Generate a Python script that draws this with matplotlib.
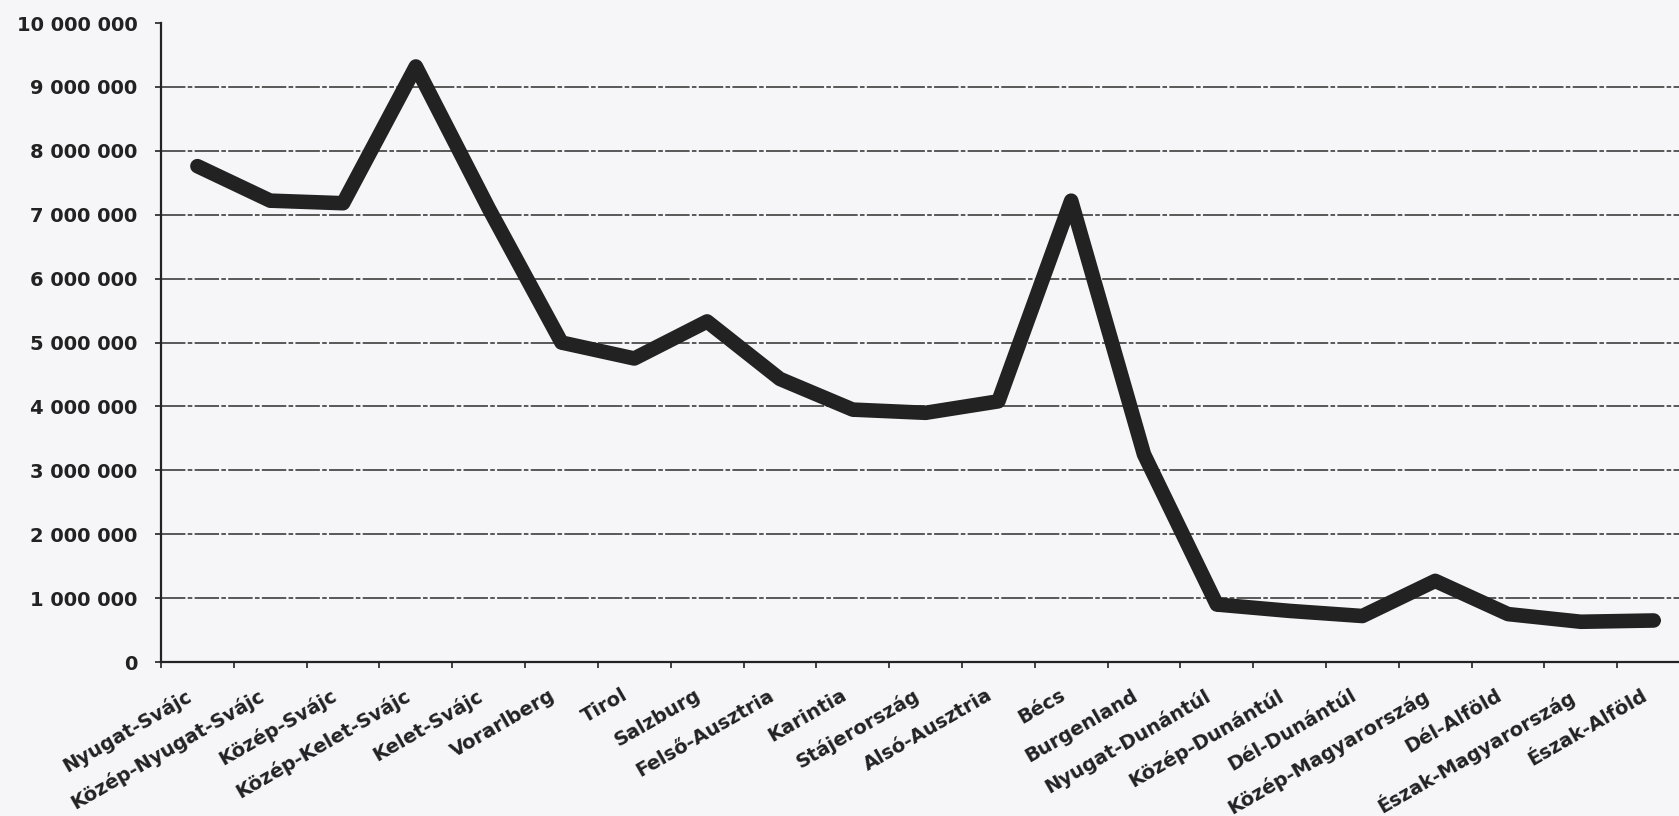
import numpy as np
import matplotlib
matplotlib.use("Agg")
import matplotlib.pyplot as plt
from matplotlib.ticker import FuncFormatter, FixedLocator
from matplotlib.transforms import ScaledTranslation

# regions (NUTS2) and values
regions = ["Nyugat-Svájc", "Közép-Nyugat-Svájc", "Közép-Svájc", "Közép-Kelet-Svájc",
           "Kelet-Svájc", "Vorarlberg", "Tirol", "Salzburg", "Felső-Ausztria",
           "Karintia", "Stájerország", "Alsó-Ausztria", "Bécs", "Burgenland",
           "Nyugat-Dunántúl", "Közép-Dunántúl", "Dél-Dunántúl", "Közép-Magyarország",
           "Dél-Alföld", "Észak-Magyarország", "Észak-Alföld"]
values = [7760000, 7220000, 7180000, 9320000, 7100000, 5000000, 4750000, 5330000,
          4430000, 3950000, 3900000, 4080000, 7220000, 3250000, 900000, 800000,
          720000, 1270000, 750000, 630000, 650000]
y_ticks = [0, 1000000, 2000000, 3000000, 4000000, 5000000, 6000000, 7000000,
           8000000, 9000000, 10000000]

bg = "#f6f6f8"
ink = "#222222"

fig = plt.figure(figsize=(16.79, 8.16), dpi=100, facecolor=bg)
ax = fig.add_axes([0.0959, 0.1887, 0.9107, 0.7831], facecolor=bg)

x = np.arange(len(regions))

# gridlines (scanned look: mostly solid with small gaps)
for v in y_ticks[1:-1]:
    ax.axhline(v, color="#2e2e2e", lw=1.1, dashes=(16, 1.5, 3, 1.5), zorder=1)

ax.plot(x, values, color=ink, lw=10.5, marker="D", markersize=6,
        solid_joinstyle="round", solid_capstyle="round", zorder=3)

ax.set_xlim(-0.5, len(regions) - 0.5)
ax.set_ylim(0, 10000000)

for side in ["top", "right"]:
    ax.spines[side].set_visible(False)
for side in ["left", "bottom"]:
    ax.spines[side].set_color(ink)
    ax.spines[side].set_linewidth(1.6)

ax.set_yticks(y_ticks)
ax.yaxis.set_major_formatter(FuncFormatter(lambda v, p: "{:,}".format(int(v)).replace(",", " ")))
ax.tick_params(axis="y", direction="out", length=4, width=1.2, color=ink, pad=13,
               labelsize=14, labelcolor=ink)

ax.set_xticks(x)
ax.set_xticklabels(regions, rotation=30, ha="right", va="top", rotation_mode="anchor")
ax.xaxis.set_minor_locator(FixedLocator(np.arange(-0.5, len(regions), 1.0)))
ax.tick_params(axis="x", which="major", length=0, pad=17, labelsize=14, labelcolor=ink)
ax.tick_params(axis="x", which="minor", direction="out", length=4, width=1.2, color=ink)

for lab in ax.get_yticklabels() + ax.get_xticklabels():
    lab.set_fontweight("bold")
for lab in ax.get_xticklabels():
    lab.set_transform(lab.get_transform() + ScaledTranslation(-9 / 72, 0, fig.dpi_scale_trans))

fig.savefig("out.png", dpi=100, facecolor=bg)
